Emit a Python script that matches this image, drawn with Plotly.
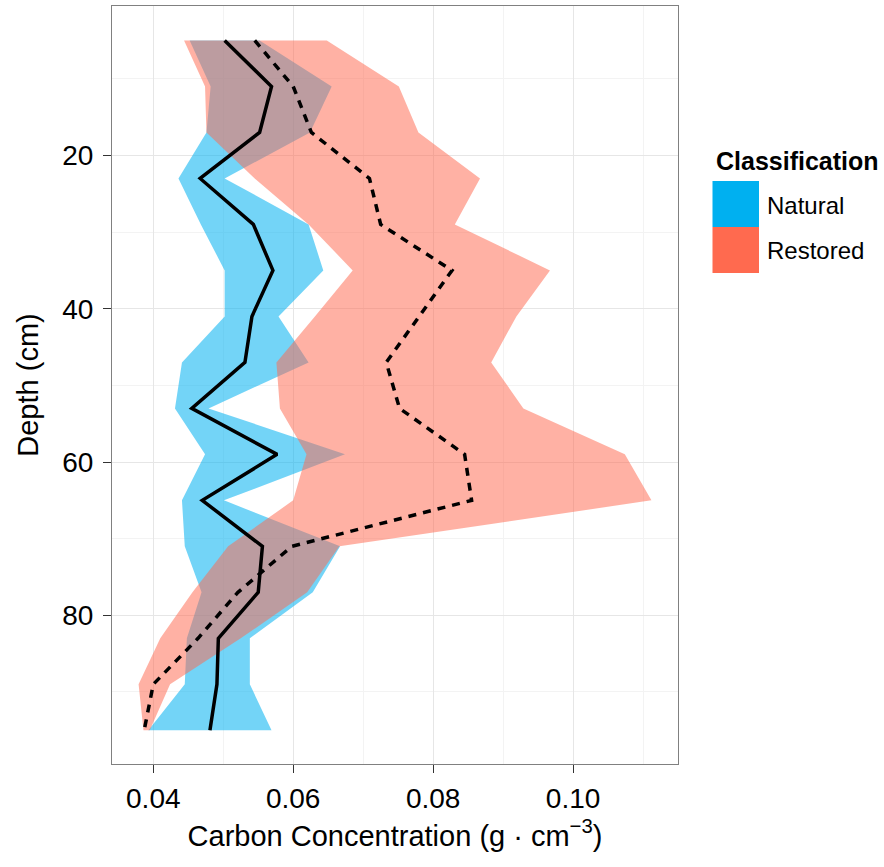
import plotly.graph_objects as go

# ---- data ----
depth = [5, 11, 17, 23, 29, 35, 41, 47, 53, 59, 65, 71, 77, 83, 89, 95]

natural_mean = [0.0502, 0.0569, 0.0552, 0.0467, 0.0543, 0.0571, 0.0541, 0.0531,
                0.0455, 0.0577, 0.0470, 0.0556, 0.0550, 0.0493, 0.0491, 0.0481]
natural_low = [0.0452, 0.0482, 0.0476, 0.0436, 0.0468, 0.0502, 0.0502, 0.0441,
               0.0431, 0.0474, 0.0441, 0.0445, 0.0469, 0.0448, 0.0445, 0.0393]
natural_high = [0.0552, 0.0655, 0.0624, 0.0502, 0.0622, 0.0643, 0.0579, 0.0622,
                0.0479, 0.0674, 0.0501, 0.0667, 0.0628, 0.0538, 0.0538, 0.0569]

restored_mean = [0.0545, 0.0600, 0.0626, 0.0709, 0.0725, 0.0827, 0.0780, 0.0733,
                 0.0752, 0.0845, 0.0855, 0.0598, 0.0521, 0.0464, 0.0400, 0.0387]
restored_low = [0.0444, 0.0474, 0.0476, 0.0545, 0.0622, 0.0685, 0.0631, 0.0576,
                0.0581, 0.0619, 0.0600, 0.0507, 0.0456, 0.0410, 0.0379, 0.0386]
restored_high = [0.0648, 0.0751, 0.0779, 0.0867, 0.0831, 0.0967, 0.0919, 0.0883,
                 0.0929, 0.1074, 0.1112, 0.0666, 0.0620, 0.0525, 0.0424, 0.0395]

classes = ["Natural", "Restored"]
key_colors = ["#00B0F0", "#FF6A4F"]
fill_colors = ["rgba(0,176,240,0.55)", "rgba(255,106,80,0.52)"]

x_ticks = [0.04, 0.06, 0.08, 0.10]
x_ticklabels = ["0.04", "0.06", "0.08", "0.10"]
y_ticks = [20, 40, 60, 80]

FONT = "Liberation Sans, Arial, sans-serif"

fig = go.Figure()

bands = [(natural_low, natural_high), (restored_low, restored_high)]
for name, (lo, hi), fc in zip(classes, bands, fill_colors):
    fig.add_trace(go.Scatter(
        x=list(lo) + list(hi)[::-1],
        y=list(depth) + list(depth)[::-1],
        fill="toself", fillcolor=fc, mode="lines",
        line=dict(width=0, color="rgba(0,0,0,0)"),
        name=name, showlegend=False, hoverinfo="skip"))

fig.add_trace(go.Scatter(x=natural_mean, y=depth, mode="lines",
                         line=dict(color="black", width=3.5),
                         showlegend=False, name="Natural mean"))
fig.add_trace(go.Scatter(x=restored_mean, y=depth, mode="lines",
                         line=dict(color="black", width=3.5, dash="8px,7px"),
                         showlegend=False, name="Restored mean"))

fig.update_xaxes(
    range=[0.0341, 0.1150], tickvals=x_ticks, ticktext=x_ticklabels,
    ticks="outside", ticklen=8, tickcolor="#333333", tickwidth=1.2,
    ticklabelstandoff=1,
    tickfont=dict(size=28, color="black", family=FONT),
    showgrid=True, gridcolor="#E6E6E6", gridwidth=1,
    minor=dict(dtick=0.01, tick0=0.0, showgrid=True, gridcolor="#F3F3F3", gridwidth=1),
    showline=True, mirror=True, linecolor="#808080", linewidth=1.2,
    zeroline=False,
    title=dict(text="Carbon Concentration (g · cm<sup>−3</sup>)",
               font=dict(size=29, color="black", family=FONT), standoff=12))

fig.update_yaxes(
    range=[99.4, 0.5], tickvals=y_ticks,
    ticks="outside", ticklen=8, tickcolor="#333333", tickwidth=1.2,
    ticklabelstandoff=4,
    tickfont=dict(size=28, color="black", family=FONT),
    showgrid=True, gridcolor="#E6E6E6", gridwidth=1,
    minor=dict(dtick=10, tick0=0, showgrid=True, gridcolor="#F3F3F3", gridwidth=1),
    showline=True, mirror=True, linecolor="#808080", linewidth=1.2,
    zeroline=False,
    title=dict(text="Depth (cm)", font=dict(size=29, color="black", family=FONT),
               standoff=14))

# manual legend (large ggplot-like keys)
L, R = 112, 678
T, B = 6, 764
def px(xp):
    return (xp - L) / (R - L)
def py(yp):
    return (B - yp) / (B - T)

shapes = []
annotations = [dict(text="<b>Classification</b>", x=px(714), y=py(161),
                    xref="paper", yref="paper", xanchor="left", yanchor="middle",
                    showarrow=False, font=dict(size=25, color="black", family=FONT))]
key_top = 181
key_h = 46
for i, (name, kc) in enumerate(zip(classes, key_colors)):
    y0 = key_top + i * key_h
    shapes.append(dict(type="rect", xref="paper", yref="paper",
                       x0=px(712.5), x1=px(759), y0=py(y0 + key_h), y1=py(y0),
                       fillcolor=kc, line=dict(width=0), layer="above"))
    annotations.append(dict(text=name, x=px(765), y=py(y0 + key_h / 2 + 1),
                            xref="paper", yref="paper", xanchor="left", yanchor="middle",
                            showarrow=False, font=dict(size=24, color="black", family=FONT)))

fig.update_layout(
    width=884, height=867,
    margin=dict(l=L, r=884 - R, t=T, b=867 - B, autoexpand=False),
    paper_bgcolor="white", plot_bgcolor="white",
    shapes=shapes, annotations=annotations,
    showlegend=False,
    font=dict(family=FONT, color="black"))

fig.write_html("out.html", config={"displayModeBar": False},
               post_script="document.body.style.margin='0px';document.body.style.overflow='hidden';")
